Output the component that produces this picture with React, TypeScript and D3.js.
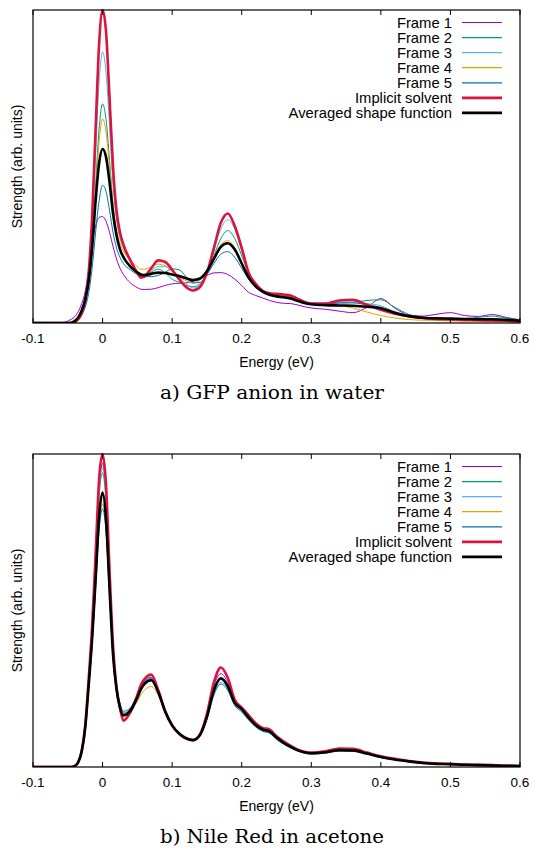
import React from "react";
import * as d3 from "d3";

const energies = [-0.1, -0.06, -0.055, -0.05, -0.045, -0.04, -0.035, -0.03, -0.025, -0.02, -0.015, -0.01, -0.005, 0, 0.005, 0.01, 0.015, 0.02, 0.025, 0.03, 0.04, 0.05, 0.055, 0.06, 0.07, 0.08, 0.09, 0.10, 0.11, 0.12, 0.13, 0.14, 0.15, 0.16, 0.17, 0.18, 0.19, 0.20, 0.21, 0.22, 0.23, 0.24, 0.25, 0.26, 0.27, 0.28, 0.29, 0.30, 0.32, 0.34, 0.36, 0.38, 0.40, 0.42, 0.44, 0.46, 0.48, 0.50, 0.52, 0.54, 0.56, 0.58, 0.60];

const xTicks = [-0.1, 0, 0.1, 0.2, 0.3, 0.4, 0.5, 0.6];
const xTickLabels = ["-0.1", "0", "0.1", "0.2", "0.3", "0.4", "0.5", "0.6"];

const seriesNames = ["Frame 1", "Frame 2", "Frame 3", "Frame 4", "Frame 5", "Implicit solvent", "Averaged shape function"];
const seriesColors = ["#9400d3", "#009e73", "#56b4e9", "#e69f00", "#0072b2", "#dc143c", "#000000"];
const seriesWidths = [1, 1, 1, 1, 1, 2.6, 2.6];

// a) GFP anion in water
const gfpFrame1 = [0, 0, 0.002, 0.006, 0.012, 0.02, 0.036, 0.062, 0.10, 0.17, 0.255, 0.31, 0.337, 0.34, 0.325, 0.29, 0.245, 0.205, 0.175, 0.155, 0.128, 0.113, 0.108, 0.107, 0.108, 0.113, 0.12, 0.125, 0.127, 0.128, 0.133, 0.142, 0.152, 0.16, 0.161, 0.155, 0.14, 0.12, 0.098, 0.088, 0.08, 0.072, 0.066, 0.063, 0.062, 0.058, 0.052, 0.048, 0.044, 0.038, 0.033, 0.05, 0.078, 0.048, 0.025, 0.022, 0.028, 0.033, 0.024, 0.021, 0.027, 0.018, 0.010];
const gfpFrame2 = [0, 0, 0, 0, 0, 0.003, 0.012, 0.03, 0.06, 0.125, 0.25, 0.44, 0.62, 0.70, 0.65, 0.52, 0.38, 0.29, 0.24, 0.215, 0.18, 0.158, 0.15, 0.15, 0.163, 0.172, 0.16, 0.14, 0.13, 0.12, 0.116, 0.125, 0.16, 0.215, 0.27, 0.295, 0.27, 0.215, 0.16, 0.125, 0.10, 0.093, 0.09, 0.087, 0.083, 0.076, 0.068, 0.063, 0.062, 0.064, 0.066, 0.072, 0.074, 0.05, 0.028, 0.018, 0.015, 0.014, 0.014, 0.018, 0.022, 0.016, 0.010];
const gfpFrame3 = [0, 0, 0, 0, 0, 0.003, 0.012, 0.03, 0.065, 0.145, 0.30, 0.54, 0.77, 0.866, 0.80, 0.63, 0.44, 0.33, 0.27, 0.24, 0.195, 0.165, 0.155, 0.155, 0.168, 0.18, 0.18, 0.165, 0.145, 0.125, 0.112, 0.12, 0.16, 0.23, 0.30, 0.33, 0.30, 0.23, 0.165, 0.125, 0.10, 0.093, 0.09, 0.088, 0.085, 0.077, 0.068, 0.063, 0.062, 0.066, 0.066, 0.062, 0.055, 0.036, 0.024, 0.017, 0.014, 0.013, 0.012, 0.013, 0.014, 0.011, 0.008];
const gfpFrame4 = [0, 0, 0, 0, 0, 0.003, 0.012, 0.03, 0.06, 0.12, 0.24, 0.42, 0.58, 0.652, 0.61, 0.50, 0.38, 0.30, 0.255, 0.23, 0.20, 0.18, 0.172, 0.172, 0.18, 0.188, 0.183, 0.165, 0.148, 0.135, 0.128, 0.137, 0.165, 0.21, 0.25, 0.263, 0.24, 0.195, 0.15, 0.12, 0.10, 0.09, 0.086, 0.082, 0.078, 0.072, 0.065, 0.06, 0.057, 0.055, 0.048, 0.035, 0.024, 0.016, 0.011, 0.009, 0.008, 0.007, 0.006, 0.006, 0.005, 0.004, 0.003];
const gfpFrame5 = [0, 0, 0, 0, 0, 0.003, 0.011, 0.027, 0.05, 0.095, 0.175, 0.29, 0.39, 0.44, 0.42, 0.36, 0.29, 0.24, 0.21, 0.19, 0.17, 0.155, 0.15, 0.148, 0.148, 0.152, 0.162, 0.173, 0.17, 0.148, 0.128, 0.13, 0.155, 0.19, 0.22, 0.228, 0.21, 0.175, 0.14, 0.115, 0.098, 0.09, 0.087, 0.085, 0.082, 0.075, 0.067, 0.062, 0.061, 0.064, 0.064, 0.058, 0.05, 0.034, 0.022, 0.016, 0.013, 0.012, 0.011, 0.011, 0.012, 0.010, 0.007];
const gfpImplicit = [0, 0, 0, 0, 0, 0.003, 0.012, 0.03, 0.07, 0.16, 0.34, 0.62, 0.89, 1.0, 0.93, 0.72, 0.50, 0.36, 0.29, 0.25, 0.20, 0.16, 0.145, 0.148, 0.175, 0.20, 0.195, 0.17, 0.14, 0.115, 0.104, 0.115, 0.16, 0.24, 0.32, 0.35, 0.31, 0.24, 0.16, 0.125, 0.103, 0.095, 0.093, 0.091, 0.088, 0.078, 0.068, 0.062, 0.062, 0.072, 0.074, 0.058, 0.042, 0.030, 0.022, 0.016, 0.013, 0.011, 0.010, 0.009, 0.008, 0.007, 0.005];
const gfpAveraged = [0, 0, 0, 0, 0.001, 0.006, 0.018, 0.04, 0.075, 0.135, 0.24, 0.39, 0.51, 0.556, 0.53, 0.45, 0.35, 0.28, 0.235, 0.21, 0.18, 0.162, 0.155, 0.153, 0.157, 0.161, 0.16, 0.155, 0.15, 0.143, 0.137, 0.142, 0.165, 0.205, 0.243, 0.255, 0.235, 0.19, 0.145, 0.117, 0.1, 0.09, 0.085, 0.082, 0.078, 0.071, 0.064, 0.06, 0.057, 0.056, 0.055, 0.052, 0.047, 0.033, 0.022, 0.017, 0.015, 0.014, 0.013, 0.012, 0.012, 0.01, 0.007];

// b) Nile Red in acetone
const nrFrame1 = [0, 0, 0, 0, 0, 0.003, 0.015, 0.05, 0.128, 0.275, 0.44, 0.66, 0.89, 0.97, 0.87, 0.62, 0.38, 0.255, 0.195, 0.172, 0.185, 0.228, 0.252, 0.27, 0.283, 0.24, 0.178, 0.134, 0.107, 0.092, 0.086, 0.104, 0.165, 0.26, 0.298, 0.27, 0.213, 0.19, 0.162, 0.137, 0.123, 0.117, 0.096, 0.08, 0.066, 0.055, 0.048, 0.045, 0.049, 0.057, 0.056, 0.045, 0.033, 0.025, 0.018, 0.013, 0.01, 0.009, 0.007, 0.006, 0.005, 0.004, 0.003];
const nrFrame2 = [0, 0, 0, 0, 0, 0.003, 0.015, 0.05, 0.128, 0.27, 0.43, 0.645, 0.865, 0.94, 0.845, 0.6, 0.37, 0.245, 0.18, 0.15, 0.172, 0.225, 0.25, 0.27, 0.28, 0.238, 0.175, 0.13, 0.104, 0.09, 0.085, 0.102, 0.162, 0.25, 0.282, 0.26, 0.206, 0.186, 0.158, 0.134, 0.12, 0.114, 0.094, 0.078, 0.065, 0.054, 0.047, 0.044, 0.047, 0.055, 0.054, 0.044, 0.032, 0.024, 0.018, 0.013, 0.01, 0.009, 0.007, 0.006, 0.005, 0.004, 0.003];
const nrFrame3 = [0, 0, 0, 0, 0, 0.003, 0.015, 0.05, 0.128, 0.272, 0.435, 0.652, 0.878, 0.955, 0.86, 0.61, 0.38, 0.26, 0.2, 0.172, 0.186, 0.23, 0.255, 0.273, 0.285, 0.243, 0.18, 0.136, 0.108, 0.092, 0.086, 0.1, 0.155, 0.235, 0.27, 0.25, 0.2, 0.18, 0.152, 0.13, 0.116, 0.11, 0.09, 0.075, 0.062, 0.052, 0.045, 0.042, 0.045, 0.052, 0.051, 0.042, 0.031, 0.023, 0.017, 0.013, 0.01, 0.009, 0.007, 0.006, 0.005, 0.004, 0.003];
const nrFrame4 = [0, 0, 0, 0, 0, 0.003, 0.015, 0.05, 0.125, 0.255, 0.4, 0.58, 0.77, 0.84, 0.76, 0.55, 0.35, 0.245, 0.19, 0.17, 0.18, 0.21, 0.23, 0.245, 0.257, 0.228, 0.172, 0.13, 0.106, 0.091, 0.086, 0.102, 0.16, 0.248, 0.285, 0.26, 0.206, 0.186, 0.158, 0.134, 0.12, 0.114, 0.094, 0.078, 0.065, 0.054, 0.047, 0.044, 0.047, 0.054, 0.053, 0.043, 0.032, 0.024, 0.018, 0.013, 0.01, 0.009, 0.007, 0.006, 0.005, 0.004, 0.003];
const nrFrame5 = [0, 0, 0, 0, 0, 0.003, 0.015, 0.05, 0.123, 0.25, 0.39, 0.57, 0.755, 0.825, 0.75, 0.55, 0.355, 0.255, 0.205, 0.178, 0.19, 0.232, 0.258, 0.275, 0.287, 0.245, 0.182, 0.138, 0.11, 0.093, 0.086, 0.1, 0.152, 0.23, 0.265, 0.245, 0.196, 0.176, 0.15, 0.128, 0.114, 0.108, 0.088, 0.073, 0.061, 0.051, 0.044, 0.041, 0.044, 0.051, 0.05, 0.041, 0.03, 0.023, 0.017, 0.012, 0.01, 0.009, 0.007, 0.006, 0.005, 0.004, 0.003];
const nrImplicit = [0, 0, 0, 0, 0, 0.003, 0.015, 0.05, 0.13, 0.28, 0.45, 0.68, 0.92, 1.0, 0.9, 0.63, 0.39, 0.255, 0.19, 0.148, 0.175, 0.23, 0.262, 0.28, 0.295, 0.245, 0.178, 0.132, 0.106, 0.091, 0.086, 0.104, 0.17, 0.27, 0.318, 0.285, 0.215, 0.19, 0.165, 0.14, 0.125, 0.12, 0.098, 0.082, 0.068, 0.056, 0.049, 0.046, 0.05, 0.059, 0.058, 0.046, 0.034, 0.026, 0.019, 0.014, 0.011, 0.01, 0.008, 0.007, 0.006, 0.004, 0.003];
const nrAveraged = [0, 0, 0, 0, 0, 0.003, 0.015, 0.05, 0.125, 0.26, 0.41, 0.6, 0.8, 0.877, 0.79, 0.57, 0.36, 0.25, 0.19, 0.165, 0.18, 0.222, 0.248, 0.265, 0.277, 0.24, 0.177, 0.133, 0.107, 0.092, 0.086, 0.102, 0.16, 0.245, 0.283, 0.258, 0.205, 0.185, 0.158, 0.134, 0.12, 0.114, 0.094, 0.078, 0.065, 0.054, 0.047, 0.044, 0.047, 0.054, 0.053, 0.043, 0.032, 0.024, 0.018, 0.013, 0.01, 0.009, 0.007, 0.006, 0.005, 0.004, 0.003];

const gfpSeries = [gfpFrame1, gfpFrame2, gfpFrame3, gfpFrame4, gfpFrame5, gfpImplicit, gfpAveraged];
const nrSeries = [nrFrame1, nrFrame2, nrFrame3, nrFrame4, nrFrame5, nrImplicit, nrAveraged];

const W = 535;
const H = 848;
const SANS = "'Liberation Sans', Arial, Helvetica, sans-serif";
const SERIF = "'DejaVu Serif', 'Liberation Serif', serif";

function Panel({ top, series, caption }: { top: number; series: number[][]; caption: string }) {
  const left = 33;
  const right = 520;
  const plotH = 313;
  const bottom = top + plotH;
  const x = d3.scaleLinear().domain([-0.1, 0.6]).range([left, right]);
  const y = d3.scaleLinear().domain([0, 1]).range([bottom, top]);
  const line = d3
    .line<number>()
    .x((_, i) => x(energies[i]))
    .y((d) => y(d))
    .curve(d3.curveMonotoneX);
  const legendX = 452;
  const legendLineX0 = 462;
  const legendLineX1 = 502;
  return (
    <g>
      <defs>
        <clipPath id={`clip-${top}`}>
          <rect x={left} y={top - 2} width={right - left} height={plotH + 2} />
        </clipPath>
      </defs>
      <g clipPath={`url(#clip-${top})`}>
        {series.map((s, i) => (
          <path
            key={i}
            d={line(s) || ""}
            fill="none"
            stroke={seriesColors[i]}
            strokeWidth={seriesWidths[i]}
            strokeLinejoin="round"
          />
        ))}
      </g>
      <rect x={left} y={top} width={right - left} height={plotH} fill="none" stroke="#000" strokeWidth={1.2} />
      {xTicks.map((t, i) => (
        <g key={i}>
          <line x1={x(t)} x2={x(t)} y1={bottom} y2={bottom - 5} stroke="#000" strokeWidth={1} />
          <line x1={x(t)} x2={x(t)} y1={top} y2={top + 5} stroke="#000" strokeWidth={1} />
          <text x={x(t)} y={bottom + 20} textAnchor="middle" fontFamily={SANS} fontSize={13.5} fill="#000">
            {xTickLabels[i]}
          </text>
        </g>
      ))}
      <text x={(left + right) / 2} y={bottom + 44} textAnchor="middle" fontFamily={SANS} fontSize={14} fill="#000">
        Energy (eV)
      </text>
      <text
        transform={`translate(22,${(top + bottom) / 2}) rotate(-90)`}
        textAnchor="middle"
        fontFamily={SANS}
        fontSize={14}
        fill="#000"
      >
        Strength (arb. units)
      </text>
      {seriesNames.map((n, i) => {
        const cy = top + 12.5 + i * 15.07;
        return (
          <g key={n}>
            <text x={legendX} y={cy + 5} textAnchor="end" fontFamily={SANS} fontSize={14.8} fill="#000">
              {n}
            </text>
            <line x1={legendLineX0} x2={legendLineX1} y1={cy} y2={cy} stroke={seriesColors[i]} strokeWidth={seriesWidths[i] === 1 ? 1.2 : 2.6} />
          </g>
        );
      })}
      <text
        x={272}
        y={bottom + 76}
        textAnchor="middle"
        fontFamily={SERIF}
        fontSize={18}
        fontWeight={300}
        fill="#000"
        textLength={224}
        lengthAdjust="spacingAndGlyphs"
      >
        {caption}
      </text>
    </g>
  );
}

export default function App() {
  return (
    <svg
      width={W}
      height={H}
      viewBox={`0 0 ${W} ${H}`}
      style={{ position: "absolute", left: 0, top: 0, background: "#fff" }}
    >
      <rect x={0} y={0} width={W} height={H} fill="#fff" />
      <Panel top={10} series={gfpSeries} caption="a) GFP anion in water" />
      <Panel top={454} series={nrSeries} caption="b) Nile Red in acetone" />
    </svg>
  );
}
